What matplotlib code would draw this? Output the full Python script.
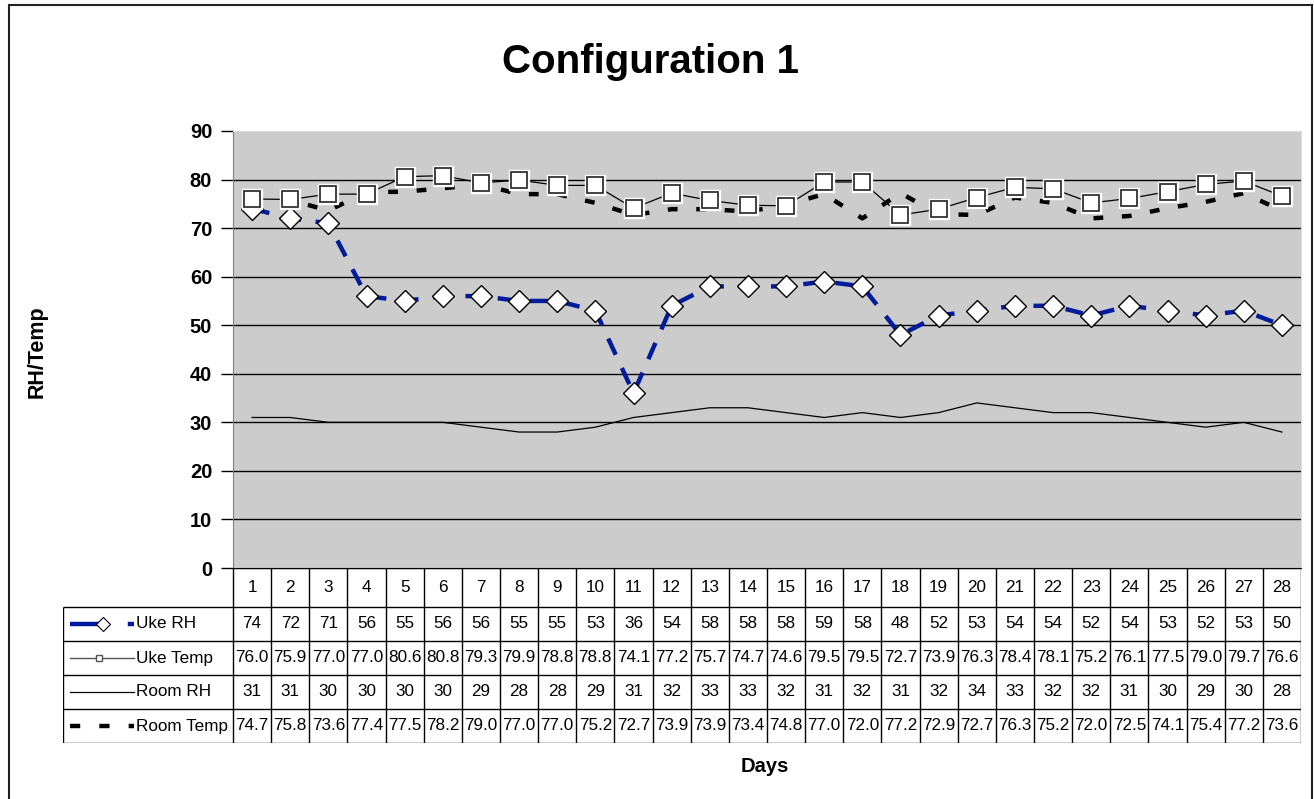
import matplotlib
matplotlib.use('Agg')
import matplotlib.pyplot as plt
from matplotlib.patches import Rectangle

plt.rcParams['font.family'] = ['Liberation Sans', 'DejaVu Sans']

days = list(range(1, 29))
uke_rh = [74, 72, 71, 56, 55, 56, 56, 55, 55, 53, 36, 54, 58, 58,
          58, 59, 58, 48, 52, 53, 54, 54, 52, 54, 53, 52, 53, 50]
uke_temp = [76.0, 75.9, 77.0, 77.0, 80.6, 80.8, 79.3, 79.9, 78.8, 78.8, 74.1, 77.2, 75.7, 74.7,
            74.6, 79.5, 79.5, 72.7, 73.9, 76.3, 78.4, 78.1, 75.2, 76.1, 77.5, 79.0, 79.7, 76.6]
room_rh = [31, 31, 30, 30, 30, 30, 29, 28, 28, 29, 31, 32, 33, 33,
           32, 31, 32, 31, 32, 34, 33, 32, 32, 31, 30, 29, 30, 28]
room_temp = [74.7, 75.8, 73.6, 77.4, 77.5, 78.2, 79.0, 77.0, 77.0, 75.2, 72.7, 73.9, 73.9, 73.4,
             74.8, 77.0, 72.0, 77.2, 72.9, 72.7, 76.3, 75.2, 72.0, 72.5, 74.1, 75.4, 77.2, 73.6]
series_names = ['Uke RH', 'Uke Temp', 'Room RH', 'Room Temp']
yticks = [0, 10, 20, 30, 40, 50, 60, 70, 80, 90]

W, H = 1314, 799
blue = '#001C9C'
fig = plt.figure(figsize=(W / 100, H / 100), dpi=100)

# outer frame
fig.add_artist(Rectangle((9 / W, -0.01), (1312 - 9) / W, 1.01 - 5 / H, transform=fig.transFigure,
                         fill=False, edgecolor='#222222', lw=1.5))

x0, x1, ytop, ybot = 233, 1301, 131, 568
ax = fig.add_axes([x0 / W, 1 - ybot / H, (x1 - x0) / W, (ybot - ytop) / H])
ax.set_facecolor('#CCCCCC')
ax.set_xlim(0.5, 28.5)
ax.set_ylim(0, 90)
ax.hlines(yticks[1:-1], 0.5, 28.5, colors='black', lw=1, zorder=1)

ax.plot(days, room_rh, color='black', lw=0.9, zorder=2)
ax.plot(days, room_temp, color='black', lw=3.2, linestyle=(0, (2.2, 4.2)), zorder=3)
ax.plot(days, uke_rh, color=blue, lw=3.2, linestyle=(0, (4, 3.3)), marker='D', ms=11,
        mfc='white', mec='black', mew=1, zorder=4)
ax.plot(days, uke_temp, color='black', lw=0.9, zorder=5)
ax.plot(days, uke_temp, linestyle='none', marker='s', ms=14, mfc='white', mec='white', zorder=6)
ax.plot(days, uke_temp, linestyle='none', marker='s', ms=12, mfc='white', mec='#333333', mew=1.3, zorder=7)

ax.set_xticks([])
ax.set_yticks(yticks)
ax.set_yticklabels([str(t) for t in yticks], fontsize=14.5, fontweight='bold')
ax.tick_params(axis='y', direction='out', length=9, width=1, color='black', pad=6)
ax.spines['left'].set_color('#808080')
ax.spines['top'].set_color('#DDDDDD')
ax.spines['right'].set_color('#DDDDDD')
ax.spines['bottom'].set_color('black')

# data table
tx0, tbot = 63, 743
w_day = (x1 - x0) / 28
xl = 0.5 - (x0 - tx0) / w_day
def px2d(px):
    return 0.5 + (px - x0) / w_day

tab = fig.add_axes([tx0 / W, 1 - tbot / H, (x1 - tx0) / W, (tbot - ybot) / H])
tab.set_xlim(xl, 28.5)
tab.set_ylim(tbot - ybot, 0)
tab.axis('off')
rows = [0, 39, 73, 107, 141, 175]
tab.hlines(rows[0], 0.5, 28.5, colors='black', lw=1)
tab.hlines(rows[1:], xl, 28.5, colors='black', lw=1)
tab.vlines([d + 0.5 for d in [0] + days], 0, rows[-1], colors='black', lw=1)
tab.vlines(xl, rows[1], rows[-1], colors='black', lw=1)

fs = 12.3
for d in days:
    tab.text(d, (rows[0] + rows[1]) / 2, str(d), ha='center', va='center', fontsize=fs)
table_rows = [[str(v) for v in uke_rh],
              ['%.1f' % v for v in uke_temp],
              [str(v) for v in room_rh],
              ['%.1f' % v for v in room_temp]]
for r, vals in enumerate(table_rows):
    yc = (rows[r + 1] + rows[r + 2]) / 2
    for d, s in zip(days, vals):
        tab.text(d, yc, s, ha='center', va='center', fontsize=fs)
    tab.text(px2d(136), yc, series_names[r], ha='left', va='center', fontsize=fs)

# legend keys
kx = [px2d(70), px2d(103), px2d(134)]
yc = [(rows[i] + rows[i + 1]) / 2 for i in range(1, 5)]
tab.plot(kx, [yc[0]] * 3, color=blue, lw=3.2, linestyle=(0, (8, 5)), marker='D', ms=7,
         markevery=[1], mfc='white', mec='black', mew=0.8, clip_on=False)
tab.plot([kx[0], px2d(99), kx[2]], [yc[1]] * 3, color='#555555', lw=1, marker='s', ms=4,
         markevery=[1], mfc='white', mec='#555555', clip_on=False)
tab.plot([kx[0], kx[2]], [yc[2]] * 2, color='black', lw=0.9, clip_on=False)
tab.plot([kx[0], kx[2]], [yc[3]] * 2, color='black', lw=3.2, linestyle=(0, (2.3, 4.3)), clip_on=False)

fig.text(0.495, 1 - 62 / H, 'Configuration 1', ha='center', va='center', fontsize=29, fontweight='bold')
fig.text(37 / W, 1 - 352 / H, 'RH/Temp', ha='center', va='center', rotation=90,
         fontsize=15.5, fontweight='bold')
fig.text(765 / W, 1 - 767 / H, 'Days', ha='center', va='center', fontsize=14.5, fontweight='bold')

fig.savefig('out.png', dpi=100)
